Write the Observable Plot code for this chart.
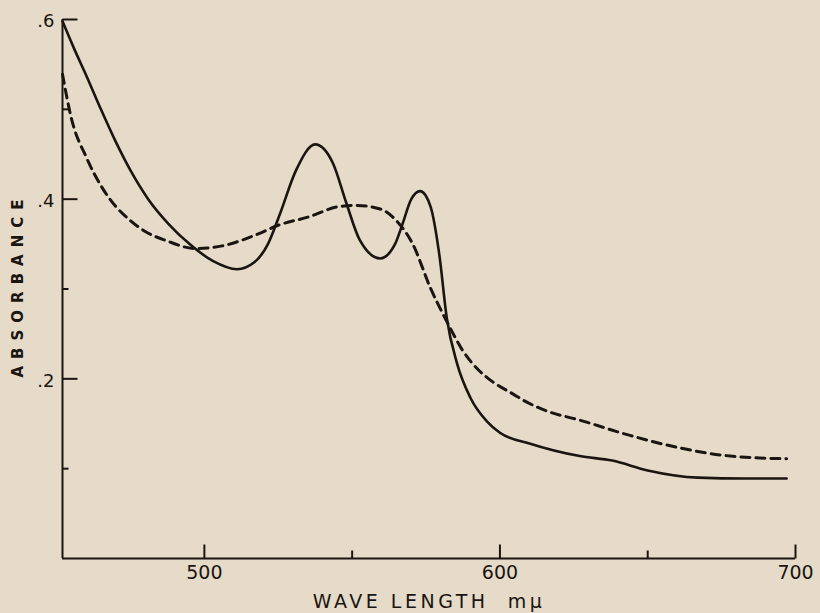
<!DOCTYPE html>
<html>
<head>
<meta charset="utf-8">
<script src="https://cdn.jsdelivr.net/npm/d3@7"></script>
<script src="https://cdn.jsdelivr.net/npm/@observablehq/plot@0.6"></script>
<style>
  html, body { margin: 0; padding: 0; background: #e5dbc8; }
</style>
</head>
<body>
<div id="chart"></div>
<script>
const xDomain = [452, 700];
const yDomain = [0, 0.6];
const xMajorTicks = [500, 600, 700];
const xMinorTicks = [550, 650];
const yMajorTicks = [0.2, 0.4, 0.6];
const yMinorTicks = [0.1, 0.3, 0.5];
const xTitle = "WAVE LENGTH  m\u03bc";
const yTitle = "ABSORBANCE";

const solidWavelength = [452, 456, 460, 465, 470, 475, 481, 488, 495, 503, 511, 517, 521.5, 525.5, 531, 537.5, 543.5, 548, 552.5, 559.5, 564.5, 567, 570, 573, 576.5, 579.5, 582, 585.5, 590, 595.5, 600, 610, 627, 638, 650, 667, 683, 697];
const solidAbsorbance = [0.598, 0.567, 0.538, 0.500, 0.464, 0.432, 0.400, 0.372, 0.350, 0.331, 0.322, 0.330, 0.350, 0.383, 0.432, 0.461, 0.440, 0.396, 0.355, 0.334, 0.350, 0.372, 0.400, 0.409, 0.392, 0.338, 0.268, 0.217, 0.179, 0.153, 0.140, 0.128, 0.114, 0.109, 0.098, 0.090, 0.089, 0.089];

const dashedWavelength = [452, 455, 460, 465, 470, 475, 480, 487, 497, 506, 518, 525, 535, 546, 551.5, 559.5, 565, 570.5, 576.5, 582, 587.5, 593, 597, 604.5, 608, 616, 627, 644, 661, 678, 697];
const dashedAbsorbance = [0.539, 0.490, 0.447, 0.415, 0.392, 0.376, 0.364, 0.354, 0.345, 0.348, 0.361, 0.371, 0.380, 0.392, 0.393, 0.389, 0.376, 0.350, 0.301, 0.264, 0.231, 0.209, 0.198, 0.183, 0.176, 0.164, 0.154, 0.137, 0.123, 0.114, 0.111];

const solid = solidWavelength.map((w, i) => ({w, a: solidAbsorbance[i]}));
const dashed = dashedWavelength.map((w, i) => ({w, a: dashedAbsorbance[i]}));

const ink = "#1b1512";
const font = "DejaVu Sans, Verdana, sans-serif";

// custom tick glyphs (inward-pointing)
const tickUp = len => ({draw(ctx) { ctx.moveTo(0, 0); ctx.lineTo(0, -len); }});
const tickRight = len => ({draw(ctx) { ctx.moveTo(0, 0); ctx.lineTo(len, 0); }});

const plot = Plot.plot({
  width: 820,
  height: 613,
  marginLeft: 62,
  marginRight: 25,
  marginTop: 19,
  marginBottom: 55,
  style: {background: "#e5dbc8", fontFamily: font, color: ink, overflow: "visible"},
  x: {domain: xDomain},
  y: {domain: yDomain},
  marks: [
    Plot.ruleX([xDomain[0]], {stroke: ink, strokeWidth: 2}),
    Plot.ruleY([yDomain[0]], {stroke: ink, strokeWidth: 2}),
    // inward ticks
    Plot.dot(yMajorTicks, {x: () => xDomain[0], y: d => d, symbol: tickRight(15), fill: "none", stroke: ink, strokeWidth: 2}),
    Plot.dot(yMinorTicks, {x: () => xDomain[0], y: d => d, symbol: tickRight(6), fill: "none", stroke: ink, strokeWidth: 2}),
    Plot.dot(xMajorTicks, {x: d => d, y: () => yDomain[0], symbol: tickUp(14), fill: "none", stroke: ink, strokeWidth: 2}),
    Plot.dot(xMinorTicks, {x: d => d, y: () => yDomain[0], symbol: tickUp(8), fill: "none", stroke: ink, strokeWidth: 2}),
    // labels
    Plot.axisY(yMajorTicks, {anchor: "left", tickSize: 0, tickPadding: 8, fill: ink,
      tickFormat: d => "." + Math.round(d * 10), fontSize: 18, label: null, dy: 2}),
    Plot.axisX(xMajorTicks, {anchor: "bottom", tickSize: 0, tickPadding: 7, fill: ink,
      tickFormat: d => String(d), fontSize: 19, label: null}),
    Plot.line(dashed, {x: "w", y: "a", curve: "monotone-x", stroke: ink, strokeWidth: 3, strokeDasharray: "9,6"}),
    Plot.line(solid, {x: "w", y: "a", curve: "monotone-x", stroke: ink, strokeWidth: 2.6}),
    Plot.text([xTitle], {frameAnchor: "bottom", dy: 43, text: d => d, fontSize: 19, fill: ink, lineAnchor: "middle", textAnchor: "middle"}),
    Plot.text([yTitle], {frameAnchor: "left", dx: -44, dy: -4, text: d => d, rotate: -90, fontSize: 15, fill: ink, lineAnchor: "middle", textAnchor: "middle", fontWeight: "bold"})
  ]
});

d3.select(plot).selectAll("text")
  .filter(function() { return this.textContent === xTitle; })
  .attr("letter-spacing", 3.5);
d3.select(plot).selectAll("text")
  .filter(function() { return this.textContent === yTitle; })
  .attr("letter-spacing", 7);

document.getElementById("chart").appendChild(plot);
</script>
</body>
</html>
